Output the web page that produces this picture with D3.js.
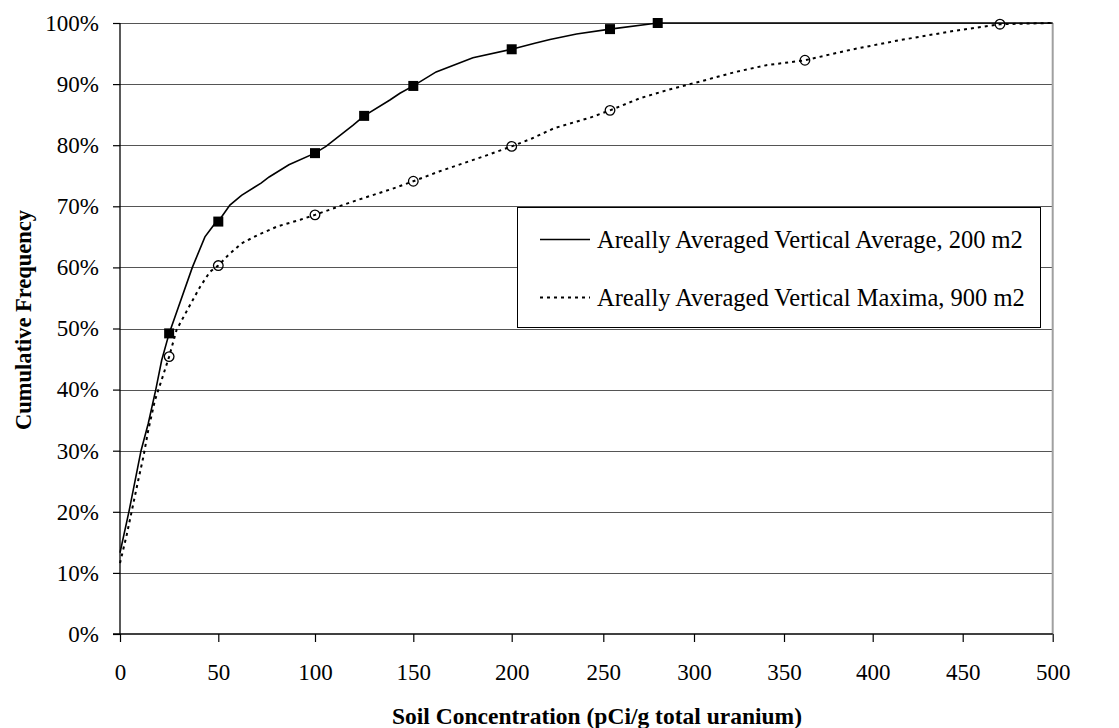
<!DOCTYPE html>
<html>
<head>
<meta charset="utf-8">
<script src="https://cdn.jsdelivr.net/npm/d3@7"></script>
<style>
  body { margin: 0; background: #fff; }
  svg { display: block; }
  text { font-family: "Liberation Serif", "Times New Roman", serif; fill: #000; }
</style>
</head>
<body>
<svg width="1119" height="728"></svg>
<script>
// tick values
var xTicks = [0, 50, 100, 150, 200, 250, 300, 350, 400, 450, 500];
var yTicks = [0, 10, 20, 30, 40, 50, 60, 70, 80, 90, 100];

// Areally Averaged Vertical Average, 200 m2 (solid line)
var avgX = [0, 4.6, 10.7, 14.4, 18.2, 21.2, 25, 36.8, 43.2, 48.3, 50, 56, 62, 72.1, 76.3, 86.5, 100, 105.6,
            119.4, 125, 138.1, 143.2, 150, 161.6, 180.3, 200, 212.6, 220.9, 235.4, 253.7, 280, 500];
var avgY = [13.3, 20.1, 30.0, 34.5, 40.0, 44.8, 49.2, 60.0, 65.0, 67.2, 67.5, 70.2, 71.8, 73.8, 74.8, 76.8, 78.7, 79.8,
            83.3, 84.8, 87.4, 88.5, 89.7, 92.0, 94.3, 95.7, 96.7, 97.3, 98.2, 99.0, 100, 100];
var avgMarkX = [25, 50, 100, 125, 150, 200, 253.7, 280];
var avgMarkY = [49.2, 67.5, 78.7, 84.8, 89.7, 95.7, 99.0, 100];

// Areally Averaged Vertical Maxima, 900 m2 (dotted line)
var maxX = [0, 3.4, 5.9, 9.3, 11.9, 14.4, 17.8, 21.2, 25, 28.8, 34.7, 40.7, 45.8, 50, 55.1, 61.9, 70.4, 80.5, 92.4,
            100, 117.6, 139.6, 150, 163.1, 174.1, 185.1, 200, 211, 223.3, 242.7, 253.7, 270.3, 285, 304.4, 323.2,
            340.2, 361.8, 387.2, 415.2, 443, 470.7, 500];
var maxY = [11.6, 16.2, 20.0, 25.2, 29.0, 33.4, 38.3, 41.6, 45.4, 49.8, 53.3, 56.8, 59.3, 60.3, 62.0, 63.9, 65.3, 66.7, 67.8,
            68.6, 70.6, 72.9, 74.1, 75.7, 76.9, 78.1, 79.8, 81.1, 82.8, 84.5, 85.7, 87.7, 89.0, 90.5, 92.0,
            93.1, 93.9, 95.6, 97.2, 98.6, 99.8, 100];
var maxMarkX = [25, 50, 100, 150, 200, 253.7, 361.8, 470.7];
var maxMarkY = [45.4, 60.3, 68.6, 74.1, 79.8, 85.7, 93.9, 99.8];

var seriesNames = ["Areally Averaged Vertical Average, 200 m2", "Areally Averaged Vertical Maxima, 900 m2"];
var xTitle = "Soil Concentration (pCi/g total uranium)";
var yTitle = "Cumulative Frequency";

function drawChart () {
    var svg = d3.select("svg"),
        plotTop = 23, plotBottom = 634;

    // the source axis is not evenly spaced, so the scale follows its tick positions
    var x = d3.scaleLinear()
        .domain(xTicks)
        .range([120, 218.3, 315, 413.3, 511.7, 603.3, 694, 784, 872.7, 962.7, 1052.7]);
    var y = d3.scaleLinear().domain([0, 100]).range([plotBottom, plotTop]);

    var left = x(0), right = x(500);

    // gridlines
    svg.append("g")
        .selectAll("line")
        .data(yTicks.slice(1))
        .enter().append("line")
            .attr("x1", left).attr("x2", right)
            .attr("y1", function(d) { return Math.round(y(d)) + 0.5; })
            .attr("y2", function(d) { return Math.round(y(d)) + 0.5; })
            .attr("stroke", "#555");

    // right edge of plot area
    svg.append("line")
        .attr("x1", right).attr("x2", right)
        .attr("y1", plotTop).attr("y2", plotBottom)
        .attr("stroke", "#a0a0a0")
        .attr("stroke-width", 2);

    // axes
    var yAxis = svg.append("g")
        .attr("transform", "translate(" + left + ",0)")
        .call(d3.axisLeft(y).tickValues(yTicks).tickSize(7).tickPadding(14)
            .tickFormat(function(d) { return d + "%"; }));

    var xAxis = svg.append("g")
        .attr("transform", "translate(0," + plotBottom + ")")
        .call(d3.axisBottom(x).tickValues(xTicks).tickSize(8).tickPadding(22)
            .tickFormat(function(d) { return d; }));

    [yAxis, xAxis].forEach(function(a) {
        a.selectAll(".domain").attr("stroke", "#000").attr("stroke-width", 1.3);
        a.selectAll(".tick line").attr("stroke", "#000").attr("stroke-width", 1.2);
        a.selectAll("text")
            .style("font-family", "'Liberation Serif', serif")
            .style("font-size", "23px")
            .attr("fill", "#000");
    });
    yAxis.select(".domain").attr("d", "M0," + plotTop + "V" + plotBottom);
    xAxis.select(".domain").attr("d", "M" + (left - 7) + ",0H" + right);

    // lines
    var line = d3.line()
        .x(function(d) { return x(d[0]); })
        .y(function(d) { return y(d[1]); });

    svg.append("path")
        .datum(d3.zip(maxX, maxY))
        .attr("d", line)
        .attr("fill", "none")
        .attr("stroke", "#000")
        .attr("stroke-width", 2)
        .attr("stroke-dasharray", "3,4");

    svg.append("path")
        .datum(d3.zip(avgX, avgY))
        .attr("d", line)
        .attr("fill", "none")
        .attr("stroke", "#000")
        .attr("stroke-width", 1.6);

    // markers
    svg.append("g")
        .selectAll("rect")
        .data(d3.zip(avgMarkX, avgMarkY))
        .enter().append("rect")
            .attr("x", function(d) { return x(d[0]) - 5; })
            .attr("y", function(d) { return y(d[1]) - 5; })
            .attr("width", 10)
            .attr("height", 10)
            .attr("fill", "#000");

    svg.append("g")
        .selectAll("circle")
        .data(d3.zip(maxMarkX, maxMarkY))
        .enter().append("circle")
            .attr("cx", function(d) { return x(d[0]); })
            .attr("cy", function(d) { return y(d[1]); })
            .attr("r", 4.8)
            .attr("fill", "none")
            .attr("stroke", "#000")
            .attr("stroke-width", 1.3);

    // legend
    var legend = svg.append("g");
    legend.append("rect")
        .attr("x", 517.5).attr("y", 207.5)
        .attr("width", 523).attr("height", 120)
        .attr("fill", "#fff")
        .attr("stroke", "#000")
        .attr("stroke-width", 1);

    var items = legend.selectAll(".item")
        .data(seriesNames)
        .enter().append("g")
            .attr("class", "item")
            .attr("transform", function(d, i) { return "translate(0," + (i * 58) + ")"; });

    items.append("line")
        .attr("x1", 540).attr("x2", 590)
        .attr("y1", 239.5).attr("y2", 239.5)
        .attr("stroke", "#000")
        .attr("stroke-width", function(d, i) { return i ? 2 : 1.6; })
        .attr("stroke-dasharray", function(d, i) { return i ? "3,4" : null; });

    items.append("text")
        .attr("x", 597)
        .attr("y", 248)
        .style("font-size", "24.5px")
        .text(function(d) { return d; });

    // axis titles
    svg.append("text")
        .attr("x", 597)
        .attr("y", 724)
        .attr("text-anchor", "middle")
        .style("font-size", "23.5px")
        .style("font-weight", "bold")
        .text(xTitle);

    svg.append("text")
        .attr("transform", "translate(31,320) rotate(-90)")
        .attr("text-anchor", "middle")
        .style("font-size", "22.5px")
        .style("font-weight", "bold")
        .text(yTitle);
}

drawChart();
</script>
</body>
</html>
